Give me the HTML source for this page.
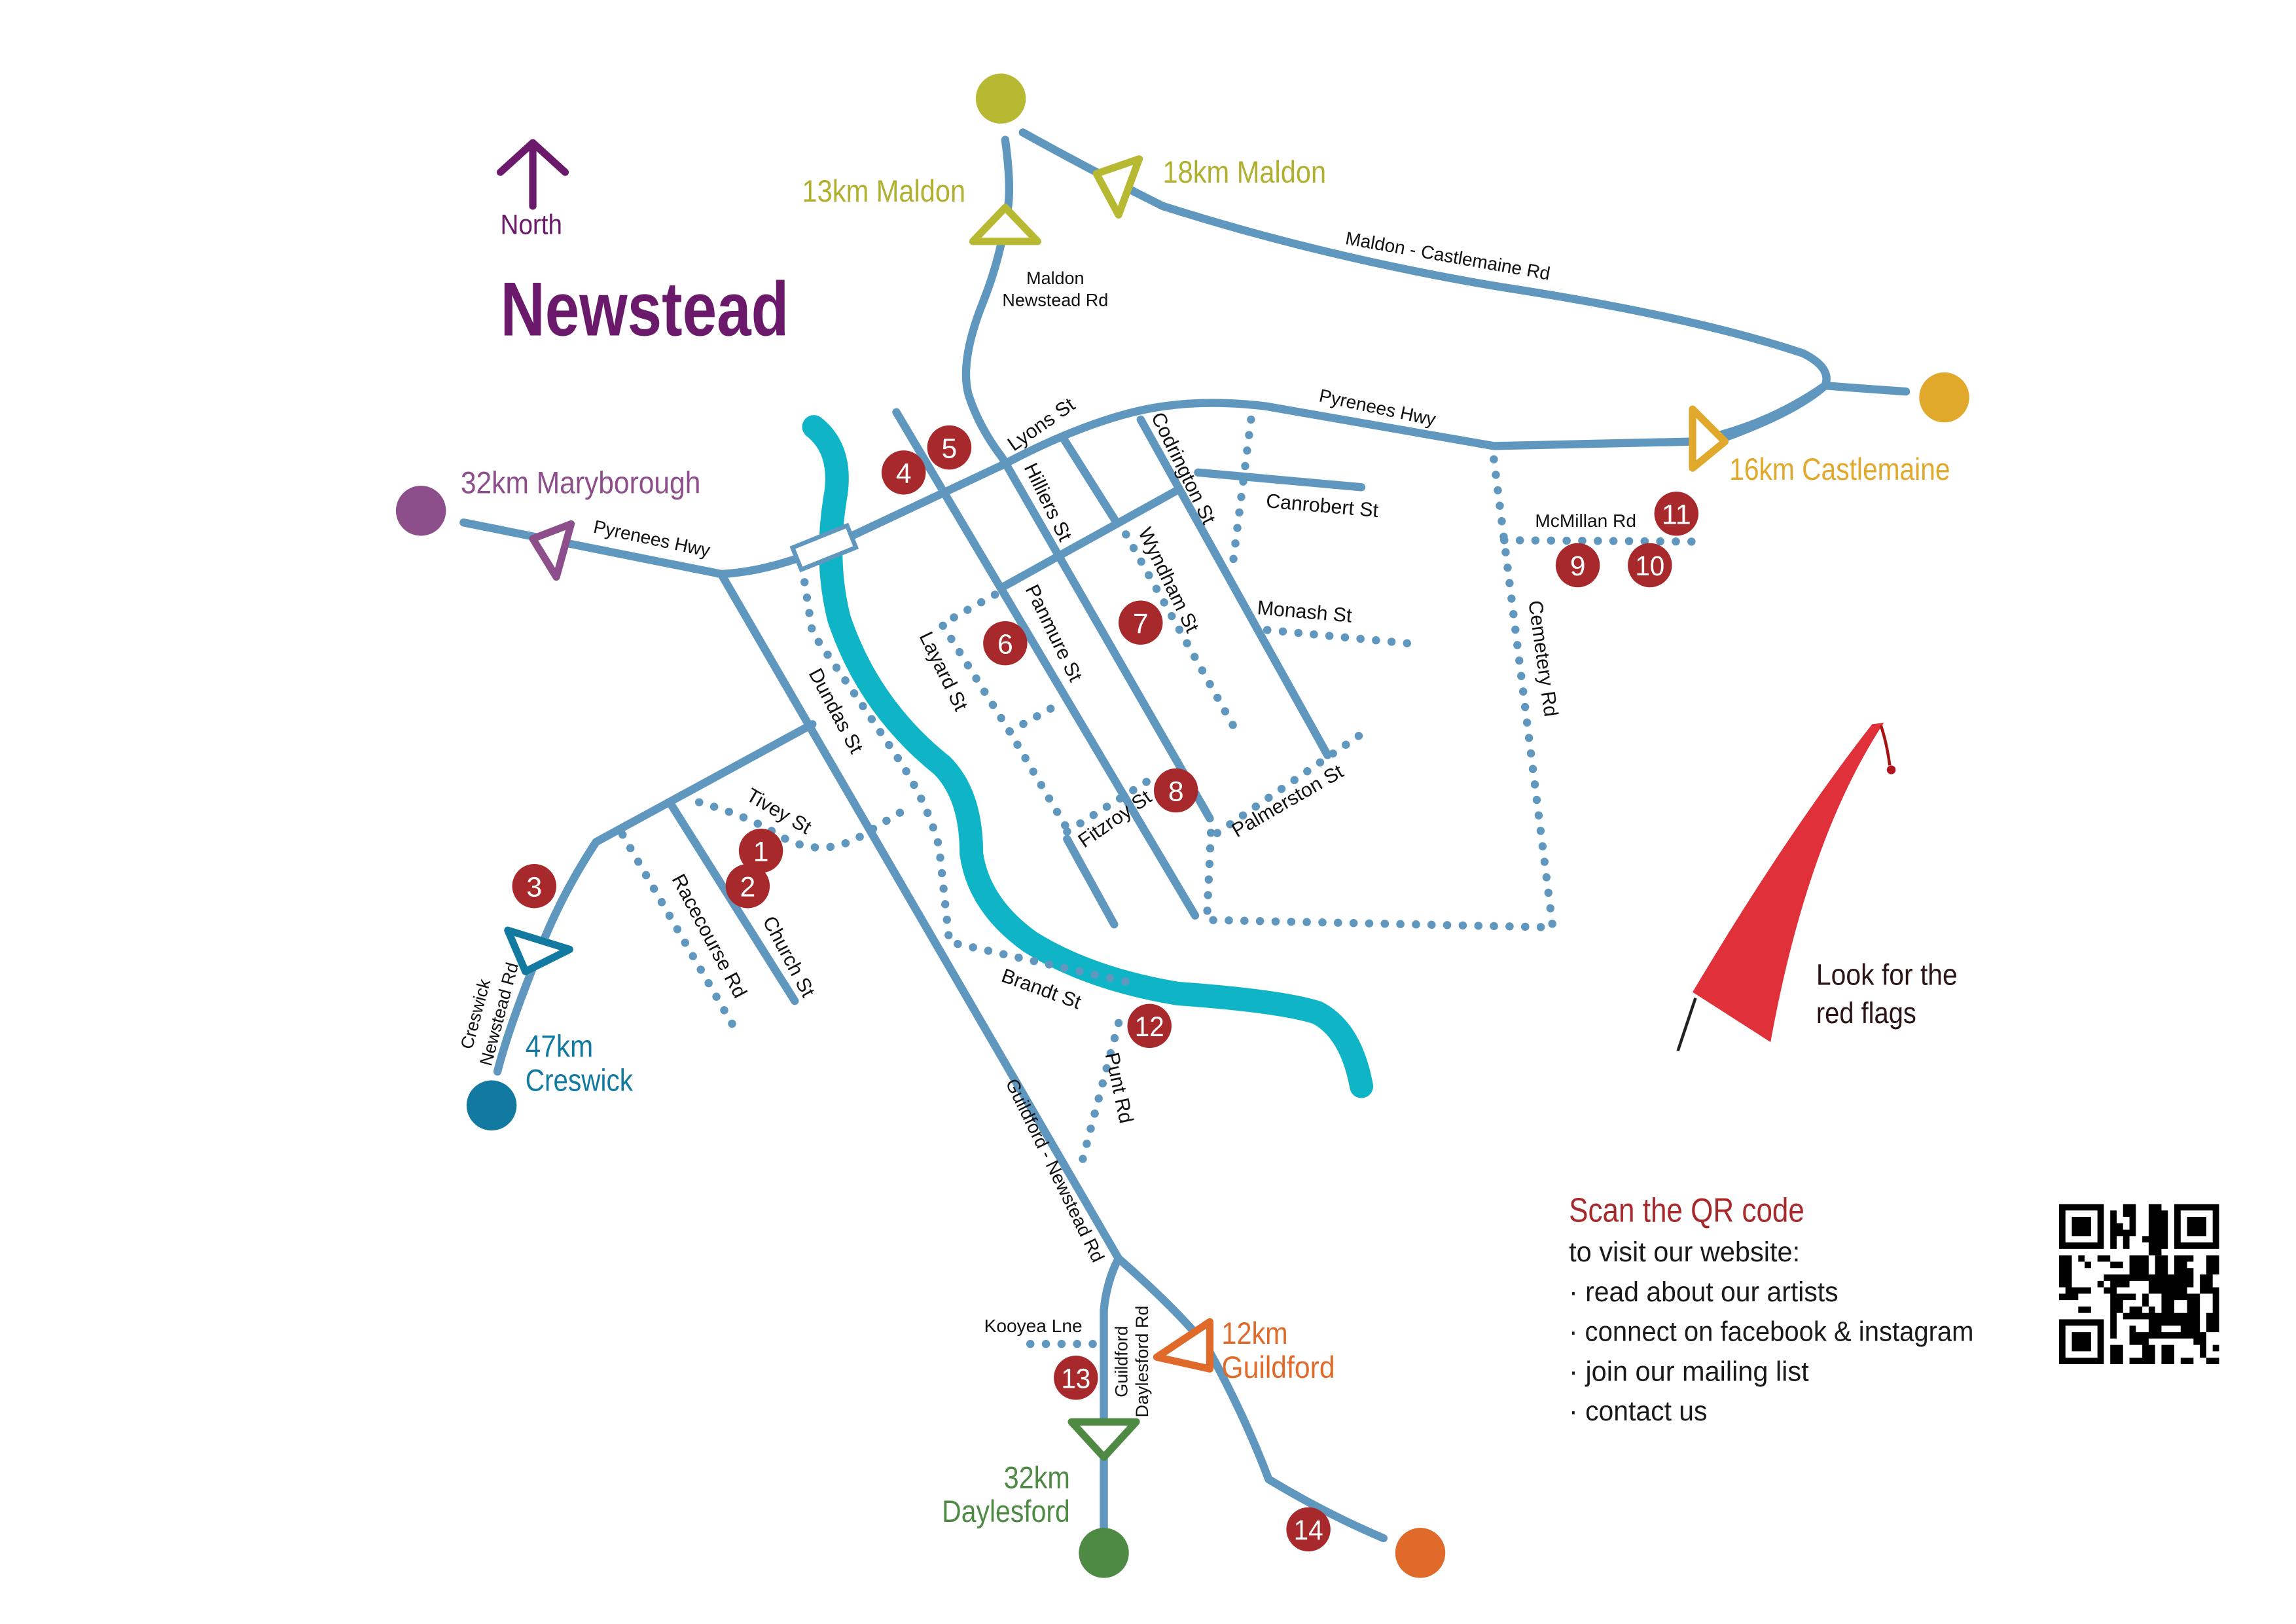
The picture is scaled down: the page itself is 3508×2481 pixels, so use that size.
<!DOCTYPE html>
<html><head><meta charset="utf-8"><style>
html,body{margin:0;padding:0;background:#fff}
svg{display:block}
text{font-family:"Liberation Sans Narrow","Liberation Sans",sans-serif}
</style></head><body>
<svg width="3508" height="2481" viewBox="0 0 1560 1103.3" xmlns="http://www.w3.org/2000/svg">
<rect width="1560" height="1104" fill="#fff"/>
<path d="M553,290 Q572,305 568,335 Q560,380 570,420 Q590,480 640,520 Q660,540 660,580 Q665,615 700,640 Q740,665 800,675 Q870,680 895,688 Q918,700 925,738" fill="none" stroke="#0fb5c6" stroke-width="16" stroke-linecap="round"/>
<g fill="none" stroke="#5f97bf" stroke-width="5.5" stroke-linecap="round" stroke-linejoin="round">
<path d="M683,95 Q687,125 685,140 Q680,175 668,205 Q652,245 658,268 Q665,290 681,311 L822,556"/>
<path d="M695,90 Q740,115 790,140 Q900,175 1020,195 Q1150,215 1225,240 Q1245,250 1240,262 Q1220,280 1170,298"/>
<path d="M1240,262 Q1265,264 1295,266"/>
<path d="M315,355 Q400,372 490,390 Q530,388 581,363 L681,316 Q730,290 770,280 Q810,270 860,276 Q950,292 1015,303 Q1100,301 1150,300 Q1200,290 1240,262"/>
<path d="M609,280 L812,622"/>
<path d="M722,297 L758,354"/>
<path d="M775,285 L902,513"/>
<path d="M681,399 L800,333"/>
<path d="M814,321 L925,331"/>
<path d="M725,570 L757,628"/>
<path d="M490,390 L760,855 Q800,890 820,915 Q845,960 862,1005 Q900,1028 940,1045"/>
<path d="M760,855 Q752,870 750,890 L750,1040"/>
<path d="M552,492 L405,572 Q380,610 365,650 Q345,700 338,728"/>
<path d="M455,545 L540,680"/>
</g>
<g fill="none" stroke="#5f97bf" stroke-width="5.5" stroke-linecap="round" stroke-dasharray="0.1 10.5">
<path d="M1015,312 L1022,367 L1055,630 L820,625 L823,560"/>
<path d="M1022,367 L1155,368"/>
<path d="M827,566 L926,498"/>
<path d="M725,565 L784,528"/>
<path d="M676,404 L640,424 L686,497 L725,563"/>
<path d="M686,497 L720,478"/>
<path d="M765,363 L839,495"/>
<path d="M850,285 L837,388"/>
<path d="M861,428 L956,437"/>
<path d="M475,545 Q510,555 530,568 Q560,585 590,565 L615,550"/>
<path d="M423,567 L500,700"/>
<path d="M545,385 L552,430 Q580,470 610,515 Q630,545 638,575 L645,640 L770,668"/>
<path d="M760,695 L735,790"/>
<path d="M700,913 L745,913"/>
</g>
<g transform="translate(560,372) rotate(-22)"><rect x="-20" y="-8" width="40" height="16" fill="#fff" stroke="#5f97bf" stroke-width="3"/></g>
<circle cx="680" cy="67" r="17" fill="#b8b933"/>
<circle cx="1321" cy="270" r="17" fill="#e1a92c"/>
<circle cx="286" cy="347" r="17" fill="#8d4e8c"/>
<circle cx="334" cy="751" r="17" fill="#127aa0"/>
<circle cx="750" cy="1055" r="17" fill="#4f8a45"/>
<circle cx="965" cy="1055" r="17" fill="#e06a2a"/>
<g fill="#fff" stroke-width="5" stroke-linejoin="round">
<polygon points="661,164 705,164 683,141" stroke="#b8b933"/>
<polygon points="745,118 774,108 760,146" stroke="#b8b933"/>
<polygon points="1150,278 1172,300 1150,318" stroke="#e1a92c"/>
<polygon points="388,356 362,366 378,392" stroke="#8d4e8c"/>
<polygon points="345,632 387,645 357,660" stroke="#127aa0"/>
<polygon points="728,966 772,966 750,990" stroke="#4f8a45"/>
<polygon points="822,898 786,922 822,930" stroke="#e06a2a"/>
</g>
<g stroke="#6b1a6b" stroke-width="5" fill="none" stroke-linecap="round" stroke-linejoin="round">
<path d="M362,140 L362,97 M340,117 L362,97 L384,117"/>
</g>
<text x="340" y="159" font-size="19" fill="#6b1a6b" textLength="42" lengthAdjust="spacingAndGlyphs">North</text>
<text x="340" y="228" font-size="52" font-weight="bold" fill="#6b1a6b" textLength="196" lengthAdjust="spacingAndGlyphs">Newstead</text>
<g font-size="21">
<text x="545" y="137" fill="#b0b02e" textLength="111" lengthAdjust="spacingAndGlyphs">13km Maldon</text>
<text x="790" y="124" fill="#b0b02e" textLength="111" lengthAdjust="spacingAndGlyphs">18km Maldon</text>
<text x="313" y="335" fill="#8d4e8c" textLength="163" lengthAdjust="spacingAndGlyphs">32km Maryborough</text>
<text x="1175" y="326" fill="#e1a92c" textLength="150" lengthAdjust="spacingAndGlyphs">16km Castlemaine</text>
<text x="357" y="718" fill="#127aa0" textLength="46" lengthAdjust="spacingAndGlyphs">47km</text>
<text x="357" y="741" fill="#127aa0" textLength="73" lengthAdjust="spacingAndGlyphs">Creswick</text>
<text x="830" y="913" fill="#e06a2a" textLength="45" lengthAdjust="spacingAndGlyphs">12km</text>
<text x="830" y="936" fill="#e06a2a" textLength="77" lengthAdjust="spacingAndGlyphs">Guildford</text>
<text x="682" y="1011" fill="#4f8a45" textLength="45" lengthAdjust="spacingAndGlyphs">32km</text>
<text x="640" y="1034" fill="#4f8a45" textLength="87" lengthAdjust="spacingAndGlyphs">Daylesford</text>
</g>
<g font-size="13.5" fill="#111">
<text x="717" y="193" font-size="12" text-anchor="middle">Maldon</text>
<text x="717" y="208" font-size="12" text-anchor="middle">Newstead Rd</text>
<text transform="translate(983,178) rotate(10)" text-anchor="middle" font-size="12.5">Maldon - Castlemaine Rd</text>
<text transform="translate(935,281) rotate(12)" text-anchor="middle" font-size="12.5">Pyrenees Hwy</text>
<text transform="translate(442,370) rotate(12)" text-anchor="middle" font-size="12.5">Pyrenees Hwy</text>
<text transform="translate(710,292) rotate(-35)" text-anchor="middle">Lyons St</text>
<text transform="translate(708,343) rotate(64)" text-anchor="middle">Hilliers St</text>
<text transform="translate(800,320) rotate(64)" text-anchor="middle">Codrington St</text>
<text transform="translate(790,396) rotate(64)" text-anchor="middle">Wyndham St</text>
<text transform="translate(898,348) rotate(5)" text-anchor="middle">Canrobert St</text>
<text transform="translate(886,420) rotate(5)" text-anchor="middle">Monash St</text>
<text transform="translate(712,432) rotate(64)" text-anchor="middle">Panmure St</text>
<text transform="translate(637,458) rotate(64)" text-anchor="middle">Layard St</text>
<text transform="translate(760,560) rotate(-35)" text-anchor="middle">Fitzroy St</text>
<text transform="translate(877,548) rotate(-30)" text-anchor="middle">Palmerston St</text>
<text x="1043" y="358" font-size="12.5">McMillan Rd</text>
<text transform="translate(1044,448) rotate(82)" text-anchor="middle">Cemetery Rd</text>
<text transform="translate(564,485) rotate(62)" text-anchor="middle">Dundas St</text>
<text transform="translate(527,555) rotate(30)" text-anchor="middle">Tivey St</text>
<text transform="translate(478,638) rotate(62)" text-anchor="middle">Racecourse Rd</text>
<text transform="translate(532,652) rotate(62)" text-anchor="middle">Church St</text>
<text transform="translate(706,676) rotate(20)" text-anchor="middle">Brandt St</text>
<text transform="translate(756,740) rotate(78)" text-anchor="middle">Punt Rd</text>
<text transform="translate(713,797) rotate(64)" text-anchor="middle" font-size="12.5">Guildford - Newstead Rd</text>
<text x="702" y="905" font-size="12.5" text-anchor="middle">Kooyea Lne</text>
<text transform="translate(766,925) rotate(-90)" text-anchor="middle" font-size="12">Guildford</text>
<text transform="translate(780,925) rotate(-90)" text-anchor="middle" font-size="12">Daylesford Rd</text>
<text transform="translate(327,690) rotate(-75)" text-anchor="middle" font-size="12">Creswick</text>
<text transform="translate(343,690) rotate(-75)" text-anchor="middle" font-size="12">Newstead Rd</text>
</g>
<g font-size="19" fill="#fff" text-anchor="middle">
<g><circle cx="517" cy="578" r="15" fill="#a8292c"/><text x="517" y="585">1</text></g>
<g><circle cx="508" cy="602" r="15" fill="#a8292c"/><text x="508" y="609">2</text></g>
<g><circle cx="363" cy="602" r="15" fill="#a8292c"/><text x="363" y="609">3</text></g>
<g><circle cx="614" cy="321" r="15" fill="#a8292c"/><text x="614" y="328">4</text></g>
<g><circle cx="645" cy="304" r="15" fill="#a8292c"/><text x="645" y="311">5</text></g>
<g><circle cx="683" cy="437" r="15" fill="#a8292c"/><text x="683" y="444">6</text></g>
<g><circle cx="775" cy="423" r="15" fill="#a8292c"/><text x="775" y="430">7</text></g>
<g><circle cx="799" cy="537" r="15" fill="#a8292c"/><text x="799" y="544">8</text></g>
<g><circle cx="1072" cy="384" r="15" fill="#a8292c"/><text x="1072" y="391">9</text></g>
<g><circle cx="1121" cy="384" r="15" fill="#a8292c"/><text x="1121" y="391" textLength="20" lengthAdjust="spacingAndGlyphs">10</text></g>
<g><circle cx="1139" cy="349" r="15" fill="#a8292c"/><text x="1139" y="356" textLength="20" lengthAdjust="spacingAndGlyphs">11</text></g>
<g><circle cx="781" cy="697" r="15" fill="#a8292c"/><text x="781" y="704" textLength="20" lengthAdjust="spacingAndGlyphs">12</text></g>
<g><circle cx="731" cy="936" r="15" fill="#a8292c"/><text x="731" y="943" textLength="20" lengthAdjust="spacingAndGlyphs">13</text></g>
<g><circle cx="889" cy="1039" r="15" fill="#a8292c"/><text x="889" y="1046" textLength="20" lengthAdjust="spacingAndGlyphs">14</text></g>
</g>
<line x1="1140" y1="714" x2="1152" y2="678" stroke="#222" stroke-width="2"/>
<path d="M1150,674 Q1215,565 1272,492 L1280,491 Q1228,570 1203,708 Q1175,690 1150,674 Z" fill="#e0303a"/>
<path d="M1278,493 Q1282,505 1284,520" stroke="#a11" stroke-width="2" fill="none"/>
<circle cx="1285" cy="523" r="3" fill="#b01520"/>
<text x="1234" y="669" font-size="20" fill="#2a1414" textLength="96" lengthAdjust="spacingAndGlyphs">Look for the</text>
<text x="1234" y="695" font-size="20" fill="#2a1414" textLength="68" lengthAdjust="spacingAndGlyphs">red flags</text>
<text x="1066" y="830" font-size="23" fill="#a8292c" textLength="160" lengthAdjust="spacingAndGlyphs">Scan the QR code</text>
<g font-size="19" fill="#1a1a1a">
<text x="1066" y="857" textLength="157" lengthAdjust="spacingAndGlyphs">to visit our website:</text>
<text x="1066" y="884" textLength="183" lengthAdjust="spacingAndGlyphs">· read about our artists</text>
<text x="1066" y="911" textLength="275" lengthAdjust="spacingAndGlyphs">· connect on facebook &amp; instagram</text>
<text x="1066" y="938" textLength="163" lengthAdjust="spacingAndGlyphs">· join our mailing list</text>
<text x="1066" y="965" textLength="94" lengthAdjust="spacingAndGlyphs">· contact us</text>
</g>
<g transform="translate(1399,818) scale(4.35)" fill="#000">
<path d="M0,0h7v7h-7zM1,1v5h5v-5zM2,2h3v3h-3z" fill-rule="evenodd"/>
<path d="M18,0h7v7h-7zM19,1v5h5v-5zM20,2h3v3h-3z" fill-rule="evenodd"/>
<path d="M0,18h7v7h-7zM1,19v5h5v-5zM2,20h3v3h-3z" fill-rule="evenodd"/>
<path d="M8,1h1v6h-1zM10,0h2v2h-2zM11,2h1v3h-1zM9,3h1v2h-1zM14,0h2v8h-2zM16,1h1v6h-1zM13,5h1v1h-1zM10,4h1v3h-1z"/>
<path d="M0,8h2v5h-2zM3,8h1v1h-1zM6,8h2v1h-2zM8,9h2v1h-2zM11,8h3v4h-3zM15,8h2v3h-2zM18,8h3v1h-3zM23,8h2v1h-2zM23,9h2v2h-2zM18,9h2v6h-2zM20,10h1v3h-1zM22,11h2v3h-2zM4,9h1v1h-1zM7,11h1v1h-1zM6,12h1v1h-1zM8,11h3v2h-3zM2,13h3v1h-3zM7,13h2v1h-2zM14,11h4v3h-4zM0,14h1v1h-1zM1,13h2v2h-2zM8,14h2v3h-2zM10,14h2v1h-2zM13,14h1v2h-1zM16,14h2v3h-2zM20,14h2v3h-2zM24,13h1v4h-1zM3,16h2v1h-2zM11,16h2v1h-2zM14,16h1v1h-1zM8,17h1v4h-1zM10,17h5v1h-5zM15,17h7v2h-7zM23,17h2v3h-2zM14,18h2v3h-2zM19,18h3v3h-3zM11,19h1v3h-1zM12,20h2v2h-2zM16,20h3v1h-3zM21,20h2v2h-2zM8,22h2v3h-2zM13,22h2v3h-2zM16,22h2v3h-2zM22,22h1v2h-1zM24,22h1v1h-1zM11,24h2v1h-2zM19,24h2v1h-2zM23,24h2v1h-2z"/>
</g>
</svg>
</body></html>
